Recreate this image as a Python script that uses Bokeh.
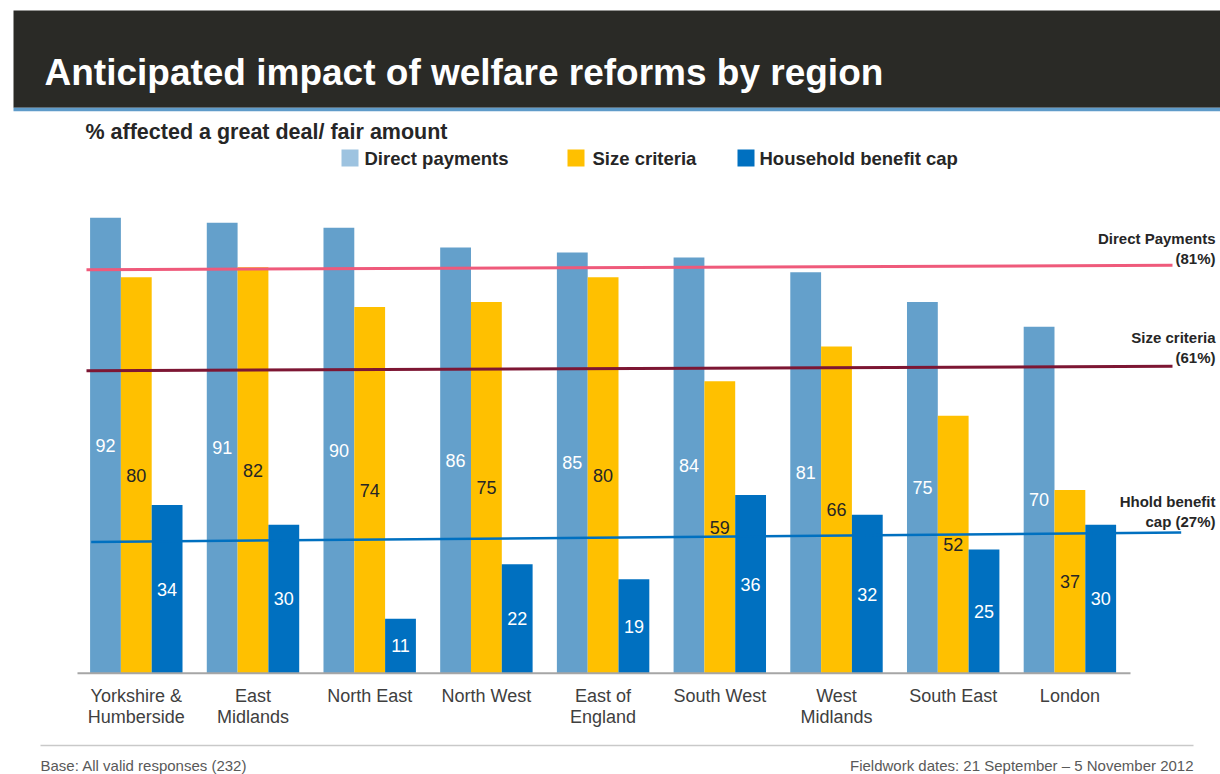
import numpy as np
from bokeh.plotting import figure
from bokeh.models import Range1d, Label, ColumnDataSource
from bokeh.core.properties import value
from bokeh.embed import file_html
from bokeh.resources import INLINE

# ---------------- data ----------------
regions = ["Yorkshire &\nHumberside", "East\nMidlands", "North East", "North West",
           "East of\nEngland", "South West", "West\nMidlands", "South East", "London"]
direct_payments = [92, 91, 90, 86, 85, 84, 81, 75, 70]
size_criteria = [80, 82, 74, 75, 80, 59, 66, 52, 37]
benefit_cap = [34, 30, 11, 22, 19, 36, 32, 25, 30]
series_names = ["Direct payments", "Size criteria", "Household benefit cap"]
avg_labels = ["Direct Payments\n(81%)", "Size criteria\n(61%)", "Hhold benefit\ncap (27%)"]
avg_start = [81.5, 61.1, 26.5]   # average lines as drawn (slightly tilted)
avg_end = [82.4, 62.0, 28.4]
title_text = "Anticipated impact of welfare reforms by region"
subtitle_text = "% affected a great deal/ fair amount"
footer_left = "Base: All valid responses (232)"
footer_right = "Fieldwork dates: 21 September \u2013 5 November 2012"

# ---------------- styles ----------------
FONT = "Liberation Sans"
C_DIRECT = "#64a0cb"
C_DIRECT_LEG = "#9dc3e0"
C_SIZE = "#ffc000"
C_CAP = "#0070c0"
LINE_COLORS = ["#ef5a7b", "#7d1633", "#0070c0"]

# page-pixel -> data helpers (layout only)
PX0, DX = 135.8, 116.7
BASE, DY = 672.7, 4.95
def X(px):
    return (px - PX0) / DX
def Y(py):
    return (BASE - py) / DY

W, H = 1220, 774
p = figure(width=W, height=H, x_range=Range1d(X(0), X(W)), y_range=Range1d(Y(H), Y(0)),
           output_backend="svg", toolbar_location=None, tools="",
           x_axis_location=None, y_axis_location=None, min_border=0,
           outline_line_color=None, background_fill_color="white", border_fill_color="white")
p.xgrid.grid_line_color = None
p.ygrid.grid_line_color = None

# header band
p.quad(left=[X(13)], right=[X(W)], top=[Y(10)], bottom=[Y(107.3)], color="#2a2a26", line_color=None)
p.quad(left=[X(13)], right=[X(W)], top=[Y(107.3)], bottom=[Y(110.8)], color="#5f9bc9", line_color=None)
p.add_layout(Label(x=X(44), y=Y(72), text=title_text, text_color="white", text_font=FONT,
                   text_font_size="37px", text_font_style="bold", text_baseline="alphabetic"))

# subtitle
p.add_layout(Label(x=X(85), y=Y(131), text=subtitle_text, text_color="#262626", text_font=FONT,
                   text_font_size="21.5px", text_font_style="bold", text_baseline="middle"))

# legend
leg_colors = [C_DIRECT_LEG, C_SIZE, C_CAP]
leg_sq = [341, 567, 737]
leg_tx = [364, 592, 759]
p.quad(left=[X(a) for a in leg_sq], right=[X(a + 17) for a in leg_sq],
       top=[Y(149)] * 3, bottom=[Y(166)] * 3, color=leg_colors, line_color=None)
p.text(x=[X(a) for a in leg_tx], y=[Y(157.5)] * 3, text=series_names, text_color="#262626",
       text_font=value(FONT), text_font_size="18.5px", text_font_style="bold",
       text_baseline="middle", text_align="left")

# bars
idx = np.arange(len(regions))
bw = 0.264
series = [direct_payments, size_criteria, benefit_cap]
colors = [C_DIRECT, C_SIZE, C_CAP]
offsets = [-bw, 0.0, bw]
for vals, col, off in zip(series, colors, offsets):
    src = ColumnDataSource(dict(x=idx + off, top=vals))
    p.vbar(x="x", top="top", bottom=0, width=bw, source=src, color=col, line_color=None)

# x axis line
p.segment(x0=[X(77)], x1=[X(1130)], y0=[0], y1=[0], line_color="#a6a6a6", line_width=2)

# average lines
line_x0 = [X(86), X(86), X(90.7)]
line_x1 = [X(1172), X(1172), X(1180.7)]
for i in range(3):
    p.segment(x0=[line_x0[i]], x1=[line_x1[i]], y0=[avg_start[i]], y1=[avg_end[i]],
              line_color=LINE_COLORS[i], line_width=3 if i < 2 else 2.5)

# value labels
label_colors = ["white", "#262626", "white"]
for vals, off, tc in zip(series, offsets, label_colors):
    v = np.array(vals, dtype=float)
    p.text(x=idx + off, y=v / 2.0, text=[str(a) for a in vals], text_color=tc,
           text_font=value(FONT), text_font_size="18px", text_align="center", text_baseline="middle")

# average line labels
lab_y = [Y(248), Y(347), Y(511)]
p.text(x=[X(1215)] * 3, y=lab_y, text=avg_labels, text_color="#262626", text_font=value(FONT),
       text_font_size="15px", text_font_style="bold", text_align="right", text_baseline="middle",
       text_line_height=1.19)

# category labels
p.text(x=idx, y=[Y(685)] * len(regions), text=regions, text_color="#404040", text_font=value(FONT),
       text_font_size="18px", text_align="center", text_baseline="top", text_line_height=1.064)

# footer
p.segment(x0=[X(40)], x1=[X(1193)], y0=[Y(745)], y1=[Y(745)], line_color="#c9c9c9", line_width=1.5)
p.add_layout(Label(x=X(40), y=Y(765), text=footer_left, text_color="#595959", text_font=FONT,
                   text_font_size="15px", text_baseline="middle", text_align="left"))
p.add_layout(Label(x=X(1193), y=Y(765), text=footer_right, text_color="#595959", text_font=FONT,
                   text_font_size="15px", text_baseline="middle", text_align="right"))

open("out.html", "w").write(file_html(p, INLINE))
